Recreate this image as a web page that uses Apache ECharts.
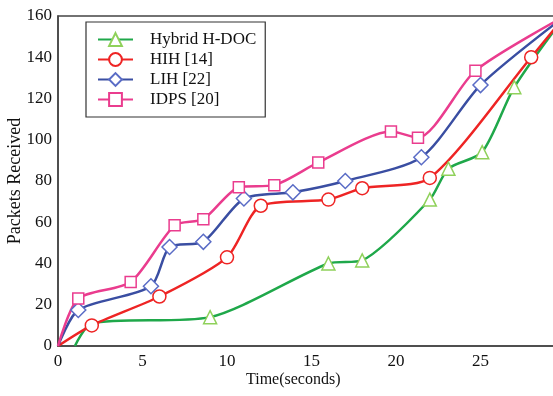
<!DOCTYPE html>
<html>
<head>
<meta charset="utf-8">
<script src="https://cdn.jsdelivr.net/npm/echarts@6/dist/echarts.min.js"></script>
<style>html,body{margin:0;padding:0;background:#fff}#c{width:553px;height:396px}</style>
</head>
<body>
<div id="c"></div>
<script>
var seriesNames = ['Hybrid H-DOC', 'HIH [14]', 'LIH [22]', 'IDPS [20]'];
var greenX = [1, 2, 9, 16, 18, 22, 23.1, 25.1, 27, 30];
var greenY = [0, 11, 14, 40, 41.5, 71, 86, 94, 125.5, 160];
var redX = [0, 2, 6, 10, 12, 16, 18, 22, 28, 30];
var redY = [0, 10, 24, 43, 68, 71, 76.5, 81.5, 140, 160];
var blueX = [0, 1.2, 5.5, 6.6, 8.6, 11, 13.9, 17, 21.5, 25, 30];
var blueY = [0, 17.5, 29, 48, 50.5, 71.5, 74.5, 80, 91.5, 126.5, 160];
var pinkX = [0, 1.2, 4.3, 6.9, 8.6, 10.7, 12.8, 15.4, 19.7, 21.3, 24.7, 30];
var pinkY = [0, 23, 31, 58.5, 61.5, 77, 78, 89, 104, 101, 133.5, 160];
// points drawn without a marker (start/end, hidden)
var greenNoMark = [0, 1, 9];
var redNoMark = [0, 9];
var blueNoMark = [0, 10];
var pinkNoMark = [0, 11];
var xTicks = [0, 5, 10, 15, 20, 25, 30];
var yTicks = [0, 20, 40, 60, 80, 100, 120, 140, 160];

function build(xs, ys, noMark) {
  return xs.map(function (x, i) {
    var d = { value: [x, ys[i]] };
    if (noMark.indexOf(i) >= 0) d.symbol = 'none';
    return d;
  });
}
var FONT = 'Liberation Serif';
var chart = echarts.init(document.getElementById('c'));
function mk(name, data, lineColor, markColor, symbol, size) {
  return {
    name: name, type: 'line', data: data, smooth: 0.25,
    symbol: symbol, symbolSize: size, showAllSymbol: true,
    lineStyle: { color: lineColor, width: 2.5 },
    itemStyle: { color: '#fff', borderColor: markColor, borderWidth: 1.5 },
    emphasis: { disabled: true }
  };
}
chart.setOption({
  animation: false,
  backgroundColor: '#fff',
  grid: { left: 58, top: 16, bottom: 50, right: -12, outerBoundsMode: 'none', containLabel: false,
          show: true, borderColor: '#444', borderWidth: 1.5, backgroundColor: 'transparent' },
  xAxis: {
    type: 'value', min: xTicks[0], max: xTicks[xTicks.length - 1], interval: 5,
    axisLine: { show: true, lineStyle: { color: '#444', width: 1.5 } },
    axisTick: { show: false }, splitLine: { show: false },
    axisLabel: { color: '#111', fontFamily: FONT, fontSize: 17, margin: 7 }
  },
  yAxis: {
    type: 'value', min: yTicks[0], max: yTicks[yTicks.length - 1], interval: 20,
    name: 'Packets Received', nameLocation: 'middle', nameGap: 34, nameMoveOverlap: false,
    nameTextStyle: { color: '#111', fontFamily: FONT, fontSize: 18 },
    axisLine: { show: true, lineStyle: { color: '#444', width: 1.5 } },
    axisTick: { show: false }, splitLine: { show: false },
    axisLabel: { color: '#111', fontFamily: FONT, fontSize: 17, margin: 6 }
  },
  graphic: [{
    type: 'text', left: 246, top: 372,
    style: { text: 'Time(seconds)', fill: '#111', font: '16px "Liberation Serif"' }
  }],
  legend: {
    orient: 'vertical', left: 86, top: 22,
    padding: [9, 9, 9, 11],
    borderColor: '#333', borderWidth: 1.2, backgroundColor: '#fff',
    itemWidth: 35, itemHeight: 16, itemGap: 3,
    textStyle: { color: '#111', fontFamily: FONT, fontSize: 17, lineHeight: 17, padding: [0, 0, 0, 12] },
    data: seriesNames
  },
  series: [
    mk(seriesNames[0], build(greenX, greenY, greenNoMark), '#1fa84a', '#8fd15a', 'triangle', 13),
    mk(seriesNames[1], build(redX, redY, redNoMark), '#ee2424', '#ee2424', 'circle', 13),
    mk(seriesNames[2], build(blueX, blueY, blueNoMark), '#3a4ea2', '#5a6cc6', 'diamond', 15),
    mk(seriesNames[3], build(pinkX, pinkY, pinkNoMark), '#ea3c8e', '#ea3c8e', 'rect', 11)
  ]
});
</script>
</body>
</html>
